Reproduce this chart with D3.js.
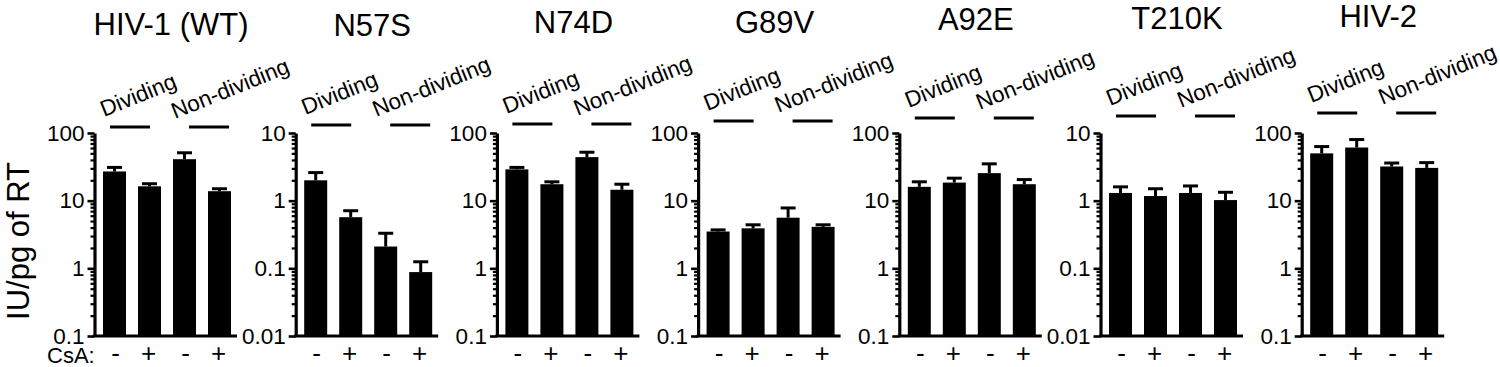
<!DOCTYPE html>
<html>
<head>
<meta charset="utf-8">
<script src="https://cdn.jsdelivr.net/npm/d3@7"></script>
<style>
body { margin: 0; background: #fff; }
text { font-family: "Liberation Sans", Arial, sans-serif; fill: #000; }
</style>
</head>
<body>
<div id="chart"></div>
<script>
// Chart size
const width = 1500;
const height = 367;

// Data
const panels = ["HIV-1 (WT)", "N57S", "N74D", "G89V", "A92E", "T210K", "HIV-2"];
const yMin = [0.1, 0.01, 0.1, 0.1, 0.1, 0.01, 0.1];
const yMax = [100, 10, 100, 100, 100, 10, 100];
const groupLabels = ["Dividing", "Non-dividing"];
const csaLabels = ["-", "+", "-", "+"];

const means = [
    [27, 16.3, 41, 13.8],
    [2.0, 0.57, 0.21, 0.088],
    [29, 17.5, 44, 14.5],
    [3.5, 3.9, 5.6, 4.1],
    [16, 18.5, 25.5, 17.5],
    [1.3, 1.17, 1.3, 1.02],
    [50, 61, 32, 30.5]
];
const errTops = [
    [31, 17.8, 51, 15],
    [2.6, 0.71, 0.33, 0.125],
    [31, 19, 52, 17.5],
    [3.7, 4.4, 7.8, 4.4],
    [19, 21.5, 35, 20.5],
    [1.6, 1.5, 1.65, 1.33],
    [63, 80, 36, 36.5]
];

// header rows drift upward toward the right in the original figure
const titleY = [35, 36, 33, 33, 30, 29, 27];
const groupLineY = [127, 125, 124, 121, 118, 116, 113];

const svg = d3.select("#chart").append("svg")
    .attr("width", width)
    .attr("height", height);

const yTop = 133;
const yBottom = 336;
const plotW = 128;
const axisX = -8.5;

const fmt = d => d >= 1 ? d3.format("d")(d) : String(d);

panels.forEach((name, i) => {
    const g = svg.append("g")
        .attr("transform", `translate(${103 + i * 201.2},0)`);

    const x = d3.scaleBand()
        .domain(d3.range(4))
        .range([0, plotW])
        .paddingInner(0.343)
        .paddingOuter(0);

    const y = d3.scaleLog()
        .domain([yMin[i], yMax[i]])
        .range([yBottom, yTop]);

    const allTicks = y.ticks();
    const majors = allTicks.filter(d => Math.abs(Math.log10(d) - Math.round(Math.log10(d))) < 1e-9);
    const minors = allTicks.filter(d => !majors.includes(d));

    // minor ticks
    const minorAxis = g.append("g")
        .attr("transform", `translate(${axisX},0)`)
        .call(d3.axisLeft(y).tickValues(minors).tickSize(4).tickSizeOuter(0).tickFormat(""));
    minorAxis.select(".domain").remove();
    minorAxis.selectAll("line").attr("stroke", "#000").attr("stroke-width", 2.2);

    // major ticks + labels
    const yAxis = g.append("g")
        .attr("transform", `translate(${axisX},0)`)
        .call(d3.axisLeft(y).tickValues(majors).tickSize(7).tickSizeOuter(0).tickPadding(3).tickFormat(fmt))
        .attr("font-size", 22.5)
        .attr("font-family", "Liberation Sans, Arial, sans-serif");
    yAxis.select(".domain").attr("stroke", "#000").attr("stroke-width", 3.2);
    yAxis.selectAll("line").attr("stroke", "#000").attr("stroke-width", 2.6);
    yAxis.selectAll("text").attr("fill", "#000");

    // baseline
    g.append("line")
        .attr("x1", axisX - 1.5).attr("x2", plotW + 6)
        .attr("y1", yBottom).attr("y2", yBottom)
        .attr("stroke", "#000").attr("stroke-width", 3.2);

    // bars
    g.selectAll(".bar")
        .data(means[i])
        .join("rect")
        .attr("class", "bar")
        .attr("x", (d, j) => x(j))
        .attr("width", x.bandwidth())
        .attr("y", d => y(d))
        .attr("height", d => yBottom - y(d))
        .attr("fill", "#000");

    // error bars (upper half only)
    const cx = j => x(j) + x.bandwidth() / 2;
    g.selectAll(".err")
        .data(errTops[i])
        .join("line")
        .attr("class", "err")
        .attr("x1", (d, j) => cx(j)).attr("x2", (d, j) => cx(j))
        .attr("y1", (d, j) => y(means[i][j]))
        .attr("y2", d => y(d))
        .attr("stroke", "#000").attr("stroke-width", 3);
    g.selectAll(".cap")
        .data(errTops[i])
        .join("line")
        .attr("class", "cap")
        .attr("x1", (d, j) => cx(j) - 7.5).attr("x2", (d, j) => cx(j) + 7.5)
        .attr("y1", d => y(d)).attr("y2", d => y(d))
        .attr("stroke", "#000").attr("stroke-width", 3);

    // group lines and rotated labels
    const ly = groupLineY[i];
    const groups = [
        { label: groupLabels[0], x1: x(0) + 7, x2: x(1) + 12, tx: x(0) + 1, ty: ly - 10 },
        { label: groupLabels[1], x1: x(2) + 16, x2: x(3) + 21, tx: x(2) + 2, ty: ly - 8 }
    ];
    groups.forEach(gr => {
        g.append("line")
            .attr("x1", gr.x1).attr("x2", gr.x2)
            .attr("y1", ly).attr("y2", ly)
            .attr("stroke", "#000").attr("stroke-width", 3);
        g.append("text")
            .attr("transform", `translate(${gr.tx},${gr.ty}) rotate(-22)`)
            .style("font-size", "22.5px")
            .text(gr.label);
    });

    // CsA +/- row
    g.selectAll(".csa")
        .data(csaLabels)
        .join("text")
        .attr("class", "csa")
        .attr("x", (d, j) => cx(j) + (d === "-" ? 1 : -1))
        .attr("y", 362)
        .attr("text-anchor", "middle")
        .style("font-size", "26px")
        .text(d => d);

    // panel title
    g.append("text")
        .attr("x", plotW / 2 + 4)
        .attr("y", titleY[i])
        .attr("text-anchor", "middle")
        .style("font-size", "31px")
        .text(name);
});

// CsA label
svg.append("text")
    .attr("x", 47)
    .attr("y", 363)
    .style("font-size", "22px")
    .text("CsA:");

// Y axis title
svg.append("text")
    .attr("transform", "translate(29,241) rotate(-90)")
    .attr("text-anchor", "middle")
    .style("font-size", "31px")
    .text("IU/pg of RT");
</script>
</body>
</html>
